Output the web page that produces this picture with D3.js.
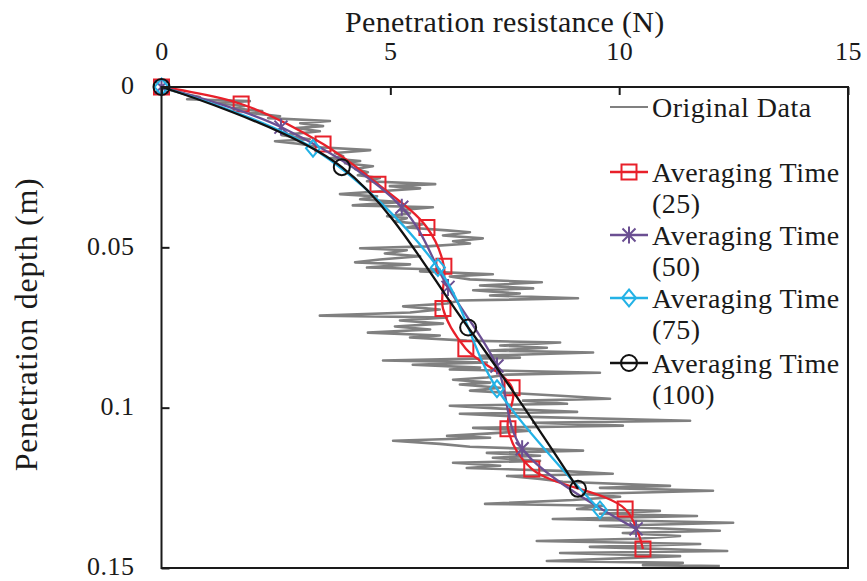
<!DOCTYPE html>
<html>
<head>
<meta charset="utf-8">
<script src="https://cdn.jsdelivr.net/npm/d3@7"></script>
<style>
  html, body { margin: 0; padding: 0; background: #fff; }
  svg { display: block; }
  text { font-family: "Liberation Serif", "DejaVu Serif", serif; fill: #1a1a1a; }
</style>
</head>
<body>
<svg id="chart" width="867" height="581"></svg>
<script>
// Axis ticks
const forceTicks = [0, 5, 10, 15];
const depthTicks = [0, 0.05, 0.1, 0.15];

// Raw penetration record: resistance (N) against depth (m)
const origForce = [0, 0.19, 0.51, 0.84, 0.56, 1.93, 1.17, 1.82, 1.54, 2.20, 1.93, 2.59, 2.33, 3.68, 3.03, 3.53, 2.94, 3.46, 2.63, 3.24,
  2.48, 3.03, 3.46, 4.56, 3.79, 3.97, 3.68, 4.34, 4.01, 4.62, 4.23, 4.51, 4.29, 4.77, 4.49, 5.98, 4.99, 5.65, 4.77, 3.90,
  4.71, 4.34, 5.21, 4.18, 5.93, 5.21, 5.43, 4.93, 5.36, 5.10, 5.71, 5.36, 6.24, 6.74, 6.15, 7.02, 6.37, 6.74, 5.80, 4.34,
  5.36, 4.88, 5.65, 4.77, 4.23, 5.43, 4.49, 6.08, 5.65, 7.24, 6.30, 6.74, 8.31, 6.96, 8.12, 6.81, 7.83, 7.18, 9.10, 6.52,
  6.24, 5.28, 6.08, 5.43, 3.46, 6.24, 5.21, 6.15, 5.10, 5.87, 4.51, 6.08, 5.43, 6.67, 8.71, 7.40, 8.42, 7.18, 9.43, 6.96,
  7.83, 4.84, 7.11, 5.49, 6.96, 6.30, 9.58, 7.55, 7.11, 6.37, 7.18, 6.52, 7.40, 6.74, 7.83, 8.71, 9.80, 7.90, 8.86, 6.30,
  7.40, 9.08, 6.52, 7.83, 11.55, 8.12, 10.08, 6.81, 8.05, 7.11, 6.24, 7.18, 5.06, 6.08, 6.74, 9.21, 7.11, 8.27, 7.24, 8.27,
  6.37, 7.40, 6.67, 8.71, 9.86, 7.55, 8.27, 8.77, 11.11, 9.58, 12.05, 9.21, 10.02, 8.99, 7.07, 9.65, 9.08, 10.89, 9.58, 11.70,
  8.55, 12.49, 9.58, 12.20, 10.08, 11.33, 10.39, 8.20, 11.77, 9.36, 12.36, 8.71, 11.33, 8.42, 11.39, 10.52, 12.20];
const origDepth = [0, 0.0009, 0.0022, 0.0031, 0.0038, 0.0044, 0.0050, 0.0059, 0.0066, 0.0075, 0.0081, 0.0091, 0.0097, 0.0106, 0.0113, 0.0122, 0.0128, 0.0138, 0.0150, 0.0163,
  0.0169, 0.0178, 0.0188, 0.0197, 0.0206, 0.0216, 0.0222, 0.0231, 0.0238, 0.0247, 0.0256, 0.0266, 0.0275, 0.0284, 0.0294, 0.0303, 0.0309, 0.0316, 0.0325, 0.0334,
  0.0341, 0.0350, 0.0359, 0.0369, 0.0375, 0.0384, 0.0394, 0.0403, 0.0409, 0.0419, 0.0428, 0.0438, 0.0447, 0.0453, 0.0463, 0.0472, 0.0481, 0.0488, 0.0497, 0.0503,
  0.0509, 0.0519, 0.0528, 0.0538, 0.0547, 0.0553, 0.0563, 0.0569, 0.0575, 0.0584, 0.0591, 0.0600, 0.0609, 0.0619, 0.0628, 0.0634, 0.0644, 0.0650, 0.0659, 0.0666,
  0.0675, 0.0684, 0.0694, 0.0703, 0.0713, 0.0719, 0.0728, 0.0738, 0.0747, 0.0756, 0.0766, 0.0775, 0.0781, 0.0791, 0.0797, 0.0806, 0.0813, 0.0822, 0.0828, 0.0838,
  0.0844, 0.0853, 0.0859, 0.0866, 0.0875, 0.0881, 0.0891, 0.0897, 0.0906, 0.0913, 0.0922, 0.0928, 0.0938, 0.0947, 0.0956, 0.0963, 0.0972, 0.0978, 0.0988, 0.0994,
  0.1003, 0.1013, 0.1019, 0.1028, 0.1041, 0.1047, 0.1056, 0.1063, 0.1072, 0.1081, 0.1088, 0.1094, 0.1103, 0.1113, 0.1122, 0.1134, 0.1141, 0.1150, 0.1156, 0.1166,
  0.1172, 0.1181, 0.1188, 0.1197, 0.1206, 0.1213, 0.1222, 0.1231, 0.1244, 0.1250, 0.1259, 0.1269, 0.1278, 0.1288, 0.1300, 0.1306, 0.1316, 0.1322, 0.1331, 0.1338,
  0.1347, 0.1359, 0.1369, 0.1384, 0.1391, 0.1400, 0.1409, 0.1416, 0.1425, 0.1434, 0.1447, 0.1453, 0.1463, 0.1478, 0.1484, 0.1491, 0.1494];

// Averaged series (averaging time 25, 50, 75, 100)
const avg25Force = [0, 1.74, 3.53, 4.73, 5.80, 6.17, 6.15, 6.65, 7.66, 7.57, 8.09, 10.13, 10.52];
const avg25Depth = [0, 0.0053, 0.0178, 0.0303, 0.0438, 0.0559, 0.0691, 0.0816, 0.0938, 0.1066, 0.1191, 0.1316, 0.1441];
const avg50Force = [0, 2.61, 5.25, 6.26, 7.33, 7.88, 10.37];
const avg50Depth = [0, 0.0125, 0.0375, 0.0625, 0.087, 0.1128, 0.1378];
const avg75Force = [0, 3.31, 6.04, 7.33, 9.58];
const avg75Depth = [0, 0.0191, 0.0563, 0.0941, 0.1319];
const avg100Force = [0, 3.94, 6.70, 9.10];
const avg100Depth = [0, 0.025, 0.075, 0.1253];

const seriesNames = ["Original Data", "Averaging Time\n(25)", "Averaging Time\n(50)", "Averaging Time\n(75)", "Averaging Time\n(100)"];

const svg = d3.select("#chart");
const plotL = 161.5, plotR = 848, plotT = 87, plotB = 568;

const x = d3.scaleLinear().domain([0, 15]).range([plotL, plotR]);
const y = d3.scaleLinear().domain([0, 0.15]).range([plotT, plotB]);

const zip = (fs, ds) => fs.map((f, i) => ({ f, d: ds[i] }));

// marker shapes
function markerPath(type) {
  switch (type) {
    case "square": return "M-7.5,-7.5H7.5V7.5H-7.5Z";
    case "diamond": return "M0,-8.5L7,0L0,8.5L-7,0Z";
    case "circle": return "M8,0A8,8 0 1,1 -8,0A8,8 0 1,1 8,0Z";
    case "star": return "M-6.5,-6.5L6.5,6.5M-6.5,6.5L6.5,-6.5M0,-8.5V8.5";
  }
  return "";
}

const series = [
  { data: zip(avg25Force, avg25Depth), color: "#e8202a", marker: "square" },
  { data: zip(avg50Force, avg50Depth), color: "#6b4f92", marker: "star" },
  { data: zip(avg75Force, avg75Depth), color: "#23b2e6", marker: "diamond" },
  { data: zip(avg100Force, avg100Depth), color: "#111111", marker: "circle" }
];

// raw record
svg.append("path")
  .datum(zip(origForce, origDepth))
  .attr("fill", "none")
  .attr("stroke", "#808080")
  .attr("stroke-width", 2.6)
  .attr("stroke-linejoin", "round")
  .attr("d", d3.line().x(p => x(p.f)).y(p => y(p.d)));

const smooth = d3.line().x(p => x(p.f)).y(p => y(p.d)).curve(d3.curveCatmullRom.alpha(0.5));

series.forEach(s => {
  const g = svg.append("g");
  g.append("path")
    .datum(s.data)
    .attr("fill", "none")
    .attr("stroke", s.color)
    .attr("stroke-width", 2.3)
    .attr("d", smooth);
  g.selectAll("path.mk")
    .data(s.data)
    .join("path")
    .attr("class", "mk")
    .attr("transform", p => `translate(${x(p.f)},${y(p.d)})`)
    .attr("d", markerPath(s.marker))
    .attr("fill", "none")
    .attr("stroke", s.color)
    .attr("stroke-width", 2);
});

// frame
svg.append("rect")
  .attr("x", plotL).attr("y", plotT)
  .attr("width", plotR - plotL).attr("height", plotB - plotT)
  .attr("fill", "none").attr("stroke", "#1a1a1a").attr("stroke-width", 2);

// axes
const xAxis = svg.append("g")
  .attr("transform", `translate(0,${plotT})`)
  .call(d3.axisTop(x).tickValues(forceTicks).tickFormat(d => String(d))
    .tickSizeInner(-8).tickSizeOuter(0).tickPadding(27));
const yAxis = svg.append("g")
  .attr("transform", `translate(${plotL},0)`)
  .call(d3.axisLeft(y).tickValues(depthTicks).tickFormat(d => String(d))
    .tickSizeInner(-8).tickSizeOuter(0).tickPadding(27));
[xAxis, yAxis].forEach(a => {
  a.select(".domain").remove();
  a.selectAll("line").attr("stroke", "#1a1a1a").attr("stroke-width", 2);
  a.selectAll("text").attr("font-family", "Liberation Serif, DejaVu Serif, serif")
    .attr("font-size", 26).attr("fill", "#1a1a1a").attr("letter-spacing", 0.5);
});
yAxis.selectAll("text").attr("dy", "0.26em");

// axis titles
svg.append("text")
  .attr("x", (plotL + plotR) / 2).attr("y", 32)
  .attr("text-anchor", "middle")
  .attr("font-size", 30)
  .attr("letter-spacing", 0.3)
  .text("Penetration resistance (N)");
svg.append("text")
  .attr("transform", `translate(37,${(plotT + plotB) / 2 - 3}) rotate(-90)`)
  .attr("text-anchor", "middle")
  .attr("font-size", 32)
  .attr("letter-spacing", 0.7)
  .text("Penetration depth (m)");

// legend
const legend = svg.append("g");
const legendRows = [107, 172, 235, 298, 363];
const lineGap = 31.5;
const legendStyles = [{ color: "#808080", marker: null }].concat(series.map(s => ({ color: s.color, marker: s.marker })));
seriesNames.forEach((name, i) => {
  const cy = legendRows[i];
  const st = legendStyles[i];
  legend.append("line")
    .attr("x1", 610).attr("x2", 648).attr("y1", cy).attr("y2", cy)
    .attr("stroke", st.color).attr("stroke-width", i === 0 ? 2.2 : 2.3);
  if (st.marker) {
    legend.append("path")
      .attr("transform", `translate(629,${cy})`)
      .attr("d", markerPath(st.marker))
      .attr("fill", "none").attr("stroke", st.color).attr("stroke-width", 2);
  }
  name.split("\n").forEach((ln, j) => {
    legend.append("text")
      .attr("x", 652).attr("y", cy + j * lineGap)
      .attr("dy", "0.35em")
      .attr("font-size", 28)
      .attr("letter-spacing", 0.5)
      .text(ln);
  });
});
</script>
</body>
</html>
